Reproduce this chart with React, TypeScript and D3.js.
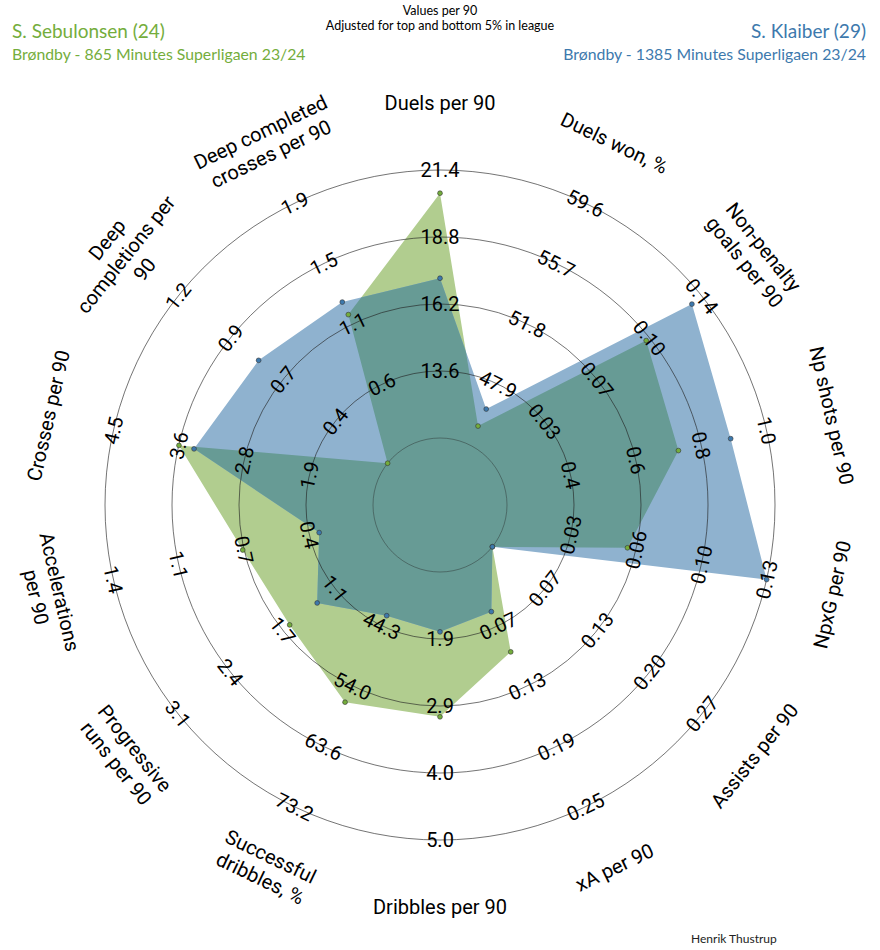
import React, { useRef, useEffect } from "react";
import * as d3 from "d3";

// Radar comparing two Brøndby players, values per 90
const params = [
  "Duels per 90",
  "Duels won, %",
  "Non-penalty\ngoals per 90",
  "Np shots per 90",
  "NpxG per 90",
  "Assists per 90",
  "xA per 90",
  "Dribbles per 90",
  "Successful\ndribbles, %",
  "Progressive\nruns per 90",
  "Accelerations\nper 90",
  "Crosses per 90",
  "Deep\ncompletions per\n90",
  "Deep completed\ncrosses per 90",
];

// ring labels per parameter (rings 2..5)
const ringTicks = [
  ["13.6", "16.2", "18.8", "21.4"],
  ["47.9", "51.8", "55.7", "59.6"],
  ["0.03", "0.07", "0.10", "0.14"],
  ["0.4", "0.6", "0.8", "1.0"],
  ["0.03", "0.06", "0.10", "0.13"],
  ["0.07", "0.13", "0.20", "0.27"],
  ["0.07", "0.13", "0.19", "0.25"],
  ["1.9", "2.9", "4.0", "5.0"],
  ["44.3", "54.0", "63.6", "73.2"],
  ["1.1", "1.7", "2.4", "3.1"],
  ["0.4", "0.7", "1.1", "1.4"],
  ["1.9", "2.8", "3.6", "4.5"],
  ["0.4", "0.7", "0.9", "1.2"],
  ["0.6", "1.1", "1.5", "1.9"],
];

const sebulonsen = [20.5, 45.2, 0.101, 0.73, 0.059, 0.0, 0.096, 3.1, 56.5, 1.68, 0.74, 3.63, 0.1, 1.1];
const klaiber = [17.2, 46.3, 0.133, 0.89, 0.13, 0.0, 0.056, 1.79, 42.7, 1.33, 0.35, 3.43, 0.79, 1.19];

const players = [
  { name: "S. Sebulonsen (24)", info: "Brøndby - 865 Minutes Superligaen 23/24", values: sebulonsen },
  { name: "S. Klaiber (29)", info: "Brøndby - 1385 Minutes Superligaen 23/24", values: klaiber },
];

const WIDTH = 880;
const HEIGHT = 950;

const RadarChart = () => {
  const ref = useRef<SVGSVGElement>(null);

  useEffect(() => {
    const svg = d3.select(ref.current);
    svg.selectChildren().remove();

    const cx = 440,
      cy = 505,
      unit = 67; // one ring
    const n = params.length;
    const angle = (i: number) => (i * 2 * Math.PI) / n;
    const deg = (i: number) => (i * 360) / n;
    // keep text readable: flip anything on the lower half
    const rot = (d: number) => (d <= 90 ? d : d < 270 ? d - 180 : d - 360);
    const pos = (i: number, r: number): [number, number] => [
      cx + r * Math.sin(angle(i)),
      cy - r * Math.cos(angle(i)),
    ];

    const scales = ringTicks.map((t) => {
      const lo = +t[0],
        hi = +t[3];
      const step = (hi - lo) / 3;
      return d3.scaleLinear().domain([lo - step, hi]).range([unit, unit * 5]).clamp(true);
    });

    const green = "#74ad3c",
      blue = "#3d79ad";
    const greenFill = "#b1cd8f",
      blueFill = "#8fb2cf",
      overlapFill = "#679b95";

    const defs = svg.append("defs");
    const pts = (vals: number[]) => vals.map((v, i) => pos(i, scales[i](v)));
    const line = d3.line().curve(d3.curveLinearClosed);
    const gPts = pts(sebulonsen);
    const bPts = pts(klaiber);

    defs.append("clipPath").attr("id", "clip-green").append("path").attr("d", line(gPts));

    const g = svg.append("g");
    g.append("path").attr("d", line(gPts)).attr("fill", greenFill);
    g.append("path").attr("d", line(bPts)).attr("fill", blueFill);
    g.append("path")
      .attr("d", line(bPts))
      .attr("fill", overlapFill)
      .attr("clip-path", "url(#clip-green)");

    // rings
    g.selectAll("circle.ring")
      .data(d3.range(1, 6))
      .join("circle")
      .attr("class", "ring")
      .attr("cx", cx)
      .attr("cy", cy)
      .attr("r", (d) => d * unit)
      .attr("fill", "none")
      .attr("stroke", "#222")
      .attr("stroke-opacity", (d) => (d === 1 ? 0.45 : 0.7))
      .attr("stroke-width", 0.9);

    // vertex dots
    [
      { p: gPts, c: green },
      { p: bPts, c: blue },
    ].forEach(({ p, c }) => {
      g.append("g")
        .selectAll("circle")
        .data(p)
        .join("circle")
        .attr("cx", (d) => d[0])
        .attr("cy", (d) => d[1])
        .attr("r", 2.4)
        .attr("fill", c)
        .attr("stroke", "#333")
        .attr("stroke-width", 0.6);
    });

    // ring value labels
    ringTicks.forEach((ticks, i) => {
      ticks.forEach((t, k) => {
        const [x, y] = pos(i, unit * (k + 2));
        g.append("text")
          .attr("transform", `translate(${x},${y}) rotate(${rot(deg(i))})`)
          .attr("text-anchor", "middle")
          .attr("dy", "0.36em")
          .style("font-family", "Roboto, 'DejaVu Sans', sans-serif")
          .style("font-size", "20px")
          .attr("fill", "#000")
          .text(t);
      });
    });

    // parameter labels
    params.forEach((p, i) => {
      const [x, y] = pos(i, unit * 6);
      const lines = p.split("\n");
      const text = g
        .append("text")
        .attr("transform", `translate(${x},${y}) rotate(${rot(deg(i))})`)
        .attr("text-anchor", "middle")
        .style("font-family", "Roboto, 'DejaVu Sans', sans-serif")
        .style("font-size", "20px")
        .attr("fill", "#000");
      lines.forEach((l, k) => {
        text
          .append("tspan")
          .attr("x", 0)
          .attr("dy", k === 0 ? `${0.36 - ((lines.length - 1) * 1.2) / 2}em` : "1.2em")
          .text(l);
      });
    });

    // header
    const head = svg.append("g").style("font-family", "Lato, 'Open Sans', sans-serif");
    head.append("text").attr("x", 440).attr("y", 15).attr("text-anchor", "middle")
      .style("font-size", "12.5px").text("Values per 90");
    head.append("text").attr("x", 440).attr("y", 29.5).attr("text-anchor", "middle")
      .style("font-size", "12.5px").text("Adjusted for top and bottom 5% in league");

    head.append("text").attr("x", 12).attr("y", 38).attr("fill", green)
      .style("font-size", "19px").text(players[0].name);
    head.append("text").attr("x", 12).attr("y", 60).attr("fill", green)
      .style("font-size", "15.8px").text(players[0].info);
    head.append("text").attr("x", 866).attr("y", 38).attr("fill", blue).attr("text-anchor", "end")
      .style("font-size", "19px").text(players[1].name);
    head.append("text").attr("x", 866).attr("y", 60).attr("fill", blue).attr("text-anchor", "end")
      .style("font-size", "15.8px").text(players[1].info);

    head.append("text").attr("x", 691).attr("y", 943).attr("fill", "#222")
      .style("font-size", "12px").text("Henrik Thustrup");
  }, []);

  return (
    <svg
      ref={ref}
      width={WIDTH}
      height={HEIGHT}
      style={{ position: "absolute", left: 0, top: 0, background: "#fff" }}
    />
  );
};

export default function App() {
  return <RadarChart />;
}
